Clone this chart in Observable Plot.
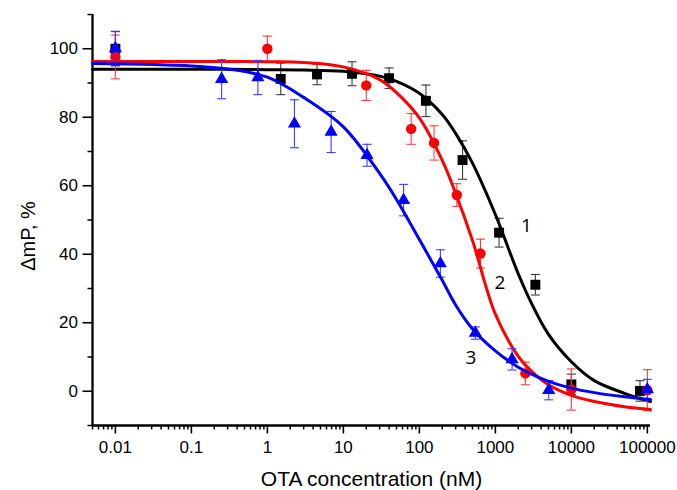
<!DOCTYPE html>
<html>
<head>
<meta charset="utf-8">
<script src="https://cdn.jsdelivr.net/npm/d3@7"></script>
<script src="https://cdn.jsdelivr.net/npm/@observablehq/plot@0.6"></script>
<style>
  html, body { margin: 0; padding: 0; background: #fff; }
  #chart { width: 677px; height: 490px; }
</style>
</head>
<body>
<div id="chart"></div>
<script>
// ---- tick values / labels ----
const xTicks = [0.01, 0.1, 1, 10, 100, 1000, 10000, 100000];
const xTickLabels = ["0.01", "0.1", "1", "10", "100", "1000", "10000", "100000"];
const yTicks = [0, 20, 40, 60, 80, 100];
const yTickLabels = ["0", "20", "40", "60", "80", "100"];
const yMinorTicks = [-10, 10, 30, 50, 70, 90, 110];
const xDomain = [0.005, 110000];
const yDomain = [-10, 110];

// ---- series 1 (black squares) ----
const s1Conc = [0.01, 1.5, 4.5, 13, 40, 122, 370, 1120, 3360, 10000, 80000];
const s1Val  = [100, 91.2, 92.5, 92.7, 91.4, 84.8, 67.5, 46.3, 31.1, 2.0, 0.1];
const s1Err  = [5, 4.6, 3, 3.5, 3, 4.6, 5.6, 4.2, 3, 3, 3];

// ---- series 2 (red circles) ----
const s2Conc = [0.01, 1, 20, 78, 156, 311, 637, 2480, 10000, 100000];
const s2Val  = [97.6, 100, 89.3, 76.6, 72.5, 57.3, 40.2, 5.2, 0.5, 0.3];
const s2Err  = [6.4, 3.7, 4.4, 4.5, 5, 3.3, 4.2, 3.3, 6, 6];

// ---- series 3 (blue triangles) ----
const s3Conc = [0.01, 0.25, 0.75, 2.27, 6.9, 20.5, 62, 189, 546, 1660, 5040, 100000];
const s3Val  = [100.1, 91.1, 91.6, 78.1, 75.7, 68.9, 55.8, 37.3, 17.0, 9.3, 0.3, 0.5];
const s3Err  = [5, 5.7, 5, 7, 6, 3.2, 4.6, 4, 1.8, 3.1, 2.8, 3];

// ---- fitted curves ----
const curveConc = [0.005, 0.1, 0.3, 1, 3, 10, 30, 50, 100, 200, 300, 500, 1000, 2000, 3000, 5000, 10000, 20000, 50000, 110000];
const curve1 = [94.0, 94.0, 94.0, 93.9, 93.8, 93.4, 92.0, 90.5, 87.0, 80.8, 75.3, 66.6, 51.6, 34.3, 25.6, 16.6, 8.6, 3.1, -0.6, -3.0];
const curve2 = [96.3, 96.3, 96.3, 96.2, 96.0, 94.7, 91.0, 87.2, 79.8, 67.4, 57.8, 44.0, 22.5, 10.2, 5.8, 1.9, -1.2, -3.0, -4.5, -5.3];
const curve3 = [95.7, 95.0, 94.1, 91.7, 85.8, 77.2, 63.6, 56.0, 44.3, 32.4, 25.2, 18.2, 11.8, 7.0, 5.0, 2.9, 0.9, -0.4, -1.6, -2.4];

// ---- curve labels ----
const labelTexts = ["1", "2", "3"];
const labelConc = [2560, 1153, 476];
const labelVal = [48.2, 31.6, 9.7];

const xTitle = "OTA concentration (nM)";
const yTitle = "ΔmP, %";

// ---- build tables ----
const rows = (conc, val, err) => conc.map((c, i) => ({c, v: val[i], e: err[i]}));
const curveRows = (vals) => curveConc.map((c, i) => ({c, v: vals[i]}));
const s1 = rows(s1Conc, s1Val, s1Err);
const s2 = rows(s2Conc, s2Val, s2Err);
const s3 = rows(s3Conc, s3Val, s3Err);
const labels = labelTexts.map((t, i) => ({t, c: labelConc[i], v: labelVal[i]}));

const majorSet = new Set(xTicks);
const xMinor = d3.scaleLog().domain(xDomain).ticks().filter(t => !majorSet.has(t) && t >= xDomain[0] && t <= xDomain[1]);

const cap = {
  draw(ctx, size) {
    const w = Math.sqrt(size / Math.PI);
    ctx.moveTo(-w, 0);
    ctx.lineTo(w, 0);
  }
};

function seriesMarks(data, color, ebColor, symbol, r) {
  return [
    Plot.ruleX(data, {x: "c", y1: d => d.v - d.e, y2: d => d.v + d.e, stroke: ebColor, strokeWidth: 1.1}),
    Plot.dot(data, {x: "c", y: d => d.v + d.e, symbol: cap, r: 4.5, stroke: ebColor, fill: "none", strokeWidth: 1.1}),
    Plot.dot(data, {x: "c", y: d => d.v - d.e, symbol: cap, r: 4.5, stroke: ebColor, fill: "none", strokeWidth: 1.1}),
    Plot.dot(data, {x: "c", y: "v", symbol, r, fill: color, stroke: "none"})
  ];
}

const chart = Plot.plot({
  width: 677,
  height: 490,
  marginLeft: 92,
  marginRight: 27,
  marginTop: 14,
  marginBottom: 65,
  style: {fontFamily: "'Liberation Sans', Arial, sans-serif", fontSize: "17px", background: "#fff", color: "#000"},
  x: {type: "log", domain: xDomain},
  y: {domain: yDomain},
  marks: [
    // axes
    Plot.axisX(xMinor, {tickSize: 4.5, strokeWidth: 1.5, tickFormat: () => "", label: null}),
    Plot.axisX(xTicks, {tickSize: 8.5, tickPadding: 7, strokeWidth: 1.6, fontSize: 17,
      tickFormat: d => xTickLabels[xTicks.indexOf(d)], label: null}),
    Plot.axisY(yMinorTicks, {tickSize: 4.5, strokeWidth: 1.5, tickFormat: () => "", label: null}),
    Plot.axisY(yTicks, {tickSize: 9.5, tickPadding: 5, strokeWidth: 1.6, fontSize: 17,
      tickFormat: d => yTickLabels[yTicks.indexOf(d)], label: null}),
    Plot.ruleY([yDomain[0]], {stroke: "#000", strokeWidth: 2.3}),
    Plot.ruleX([xDomain[0]], {stroke: "#000", strokeWidth: 2.3}),

    // series 1
    ...seriesMarks(s1, "#000000", "#3a3a3a", "square", 5.6),
    Plot.line(curveRows(curve1), {x: "c", y: "v", stroke: "#000000", strokeWidth: 3, curve: "catmull-rom"}),
    // series 2
    ...seriesMarks(s2, "#ff0000", "#ff3b3b", "circle", 5.2),
    Plot.line(curveRows(curve2), {x: "c", y: "v", stroke: "#ff0000", strokeWidth: 3, curve: "catmull-rom"}),
    // series 3
    ...seriesMarks(s3, "#0000ff", "#3b3bff", "triangle", 4.9),
    Plot.line(curveRows(curve3), {x: "c", y: "v", stroke: "#0000ff", strokeWidth: 3, curve: "catmull-rom"}),

    // curve labels
    Plot.text(labels, {x: "c", y: "v", text: "t", fontSize: 19, fontFamily: "'Open Sans', sans-serif", fill: "#000"}),

    // axis titles
    Plot.text([xTitle], {frameAnchor: "bottom", text: d => d, dy: 54, fontSize: 21, fill: "#000",
      textAnchor: "middle", lineAnchor: "middle"}),
    Plot.text([yTitle], {frameAnchor: "left", text: d => d, dx: -64, dy: 16, rotate: -90, fontSize: 20, fill: "#000",
      textAnchor: "middle", lineAnchor: "middle"})
  ]
});

document.getElementById("chart").appendChild(chart);
</script>
</body>
</html>
